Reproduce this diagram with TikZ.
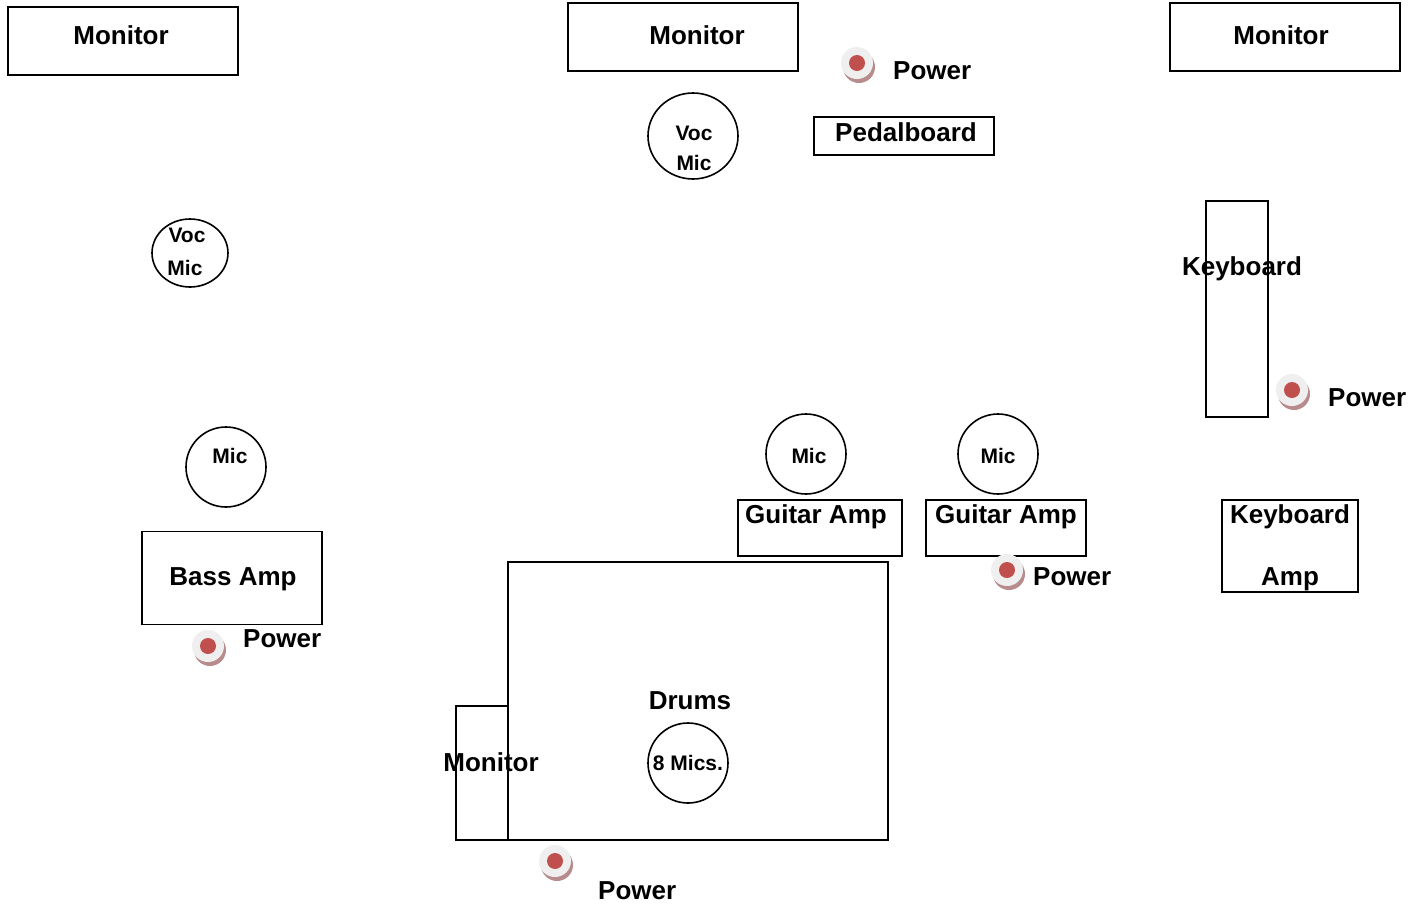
\documentclass[tikz,border=0pt]{standalone}
\usepackage{fontspec}
\setmainfont{Liberation Sans}
\usetikzlibrary{shapes.geometric}

\definecolor{plugred}{HTML}{C0504D}
\definecolor{plugshade}{HTML}{B88C8C}
\definecolor{plugface}{HTML}{EFEFEF}

\tikzset{
	box/.style={draw,line width=1.6pt,rectangle,inner sep=0,outer sep=0},
	micring/.style={draw,line width=1.6pt,circle,inner sep=0,minimum size=80},
	vocring/.style={draw,line width=1.6pt,ellipse,inner sep=0},
	lbl/.style={inner sep=0,font=\fontsize{26}{28}\selectfont\bfseries,text height=19,text depth=0},
	small/.style={inner sep=0,font=\fontsize{21}{23}\selectfont\bfseries,text height=15,text depth=0},
	power/.pic={
		\fill[plugshade] (2,4) circle (16);
		\fill[plugface] (0,0) circle (16);
		\fill[plugred] (0,0) circle (8);
		\coordinate (-c) at (0,0);
	}
}

\begin{document}
\begin{tikzpicture}[x=1pt,y=-1pt]
		\useasboundingbox (0,0) rectangle (1424,903);
		%monitors along the front
		\foreach \n/\x/\y in {monA/123/41,monB/683/37,monC/1285/37}{
			\node[box,minimum width=230,minimum height=68] (\n) at (\x,\y) {};
		}
		\node[lbl] (monAtxt) at (121,35) {Monitor};
		\node[lbl] (monBtxt) at (697,35) {Monitor};
		\node[lbl] (monCtxt) at (1281,35) {Monitor};
		
		%vocal mics
		\node[vocring,minimum width=90,minimum height=86] (vocB) at (693,136) {};
		\node[small] (vocBa) at (694,133) {Voc};
		\node[small] (vocBb) at (694,163) {Mic};
		\node[vocring,minimum width=76,minimum height=68] (vocA) at (190,253) {};
		\node[small] (vocAa) at (187,235) {Voc};
		\node[small] (vocAb) at (185,268) {Mic};
		
		\node[box,minimum width=180,minimum height=38] (pedal) at (904,136) {};
		\node[lbl] (pedaltxt) at (906,132) {Pedalboard};
		
		\node[box,minimum width=62,minimum height=216] (keys) at (1237,309) {};
		\node[lbl] (keystxt) at (1242,266) {Keyboard};
		
		%instrument mics
		\foreach \n/\x/\y in {micA/226/467,micB/806/454,micC/998/454}{
			\node[micring] (\n) at (\x,\y) {};
		}
		\node[small] (micAtxt) at (230,456) {Mic};
		\node[small] (micBtxt) at (809,456) {Mic};
		\node[small] (micCtxt) at (998,456) {Mic};
		
		%amps
		\node[box,minimum width=180,minimum height=93] (bass) at (232,578) {};
		\node[lbl] (basstxt) at (233,576) {Bass Amp};
		\node[box,minimum width=164,minimum height=56] (gtrA) at (820,528) {};
		\node[lbl] (gtrAtxt) at (816,514) {Guitar Amp};
		\node[box,minimum width=160,minimum height=56] (gtrB) at (1006,528) {};
		\node[lbl] (gtrBtxt) at (1006,514) {Guitar Amp};
		\node[box,minimum width=136,minimum height=92] (kamp) at (1290,546) {};
		\node[lbl] (kampa) at (1290,514) {Keyboard};
		\node[lbl] (kampb) at (1290,576) {Amp};
		
		%drum riser
		\node[box,minimum width=52,minimum height=134] (mondr) at (482,773) {};
		\node[box,minimum width=380,minimum height=278] (drums) at (698,701) {};
		\node[lbl] (drumstxt) at (690,700) {Drums};
		\node[micring] (drmics) at (688,763) {};
		\node[small] (drmicstxt) at (688,763) {8 Mics.};
		\node[lbl] (mondrtxt) at (491,762) {Monitor};
		
		%power drops
		\pic (pwA) at (857,63) {power};
		\node[lbl,anchor=west] (pwAtxt) at (893,70) {Power};
		\pic (pwB) at (1292,390) {power};
		\node[lbl,anchor=west] (pwBtxt) at (1328,397) {Power};
		\pic (pwC) at (208,646) {power};
		\node[lbl,anchor=west] (pwCtxt) at (243,638) {Power};
		\pic (pwD) at (1007,570) {power};
		\node[lbl,anchor=west] (pwDtxt) at (1033,576) {Power};
		\pic (pwE) at (555,861) {power};
		\node[lbl,anchor=west] (pwEtxt) at (598,890) {Power};
\end{tikzpicture}
\end{document}
